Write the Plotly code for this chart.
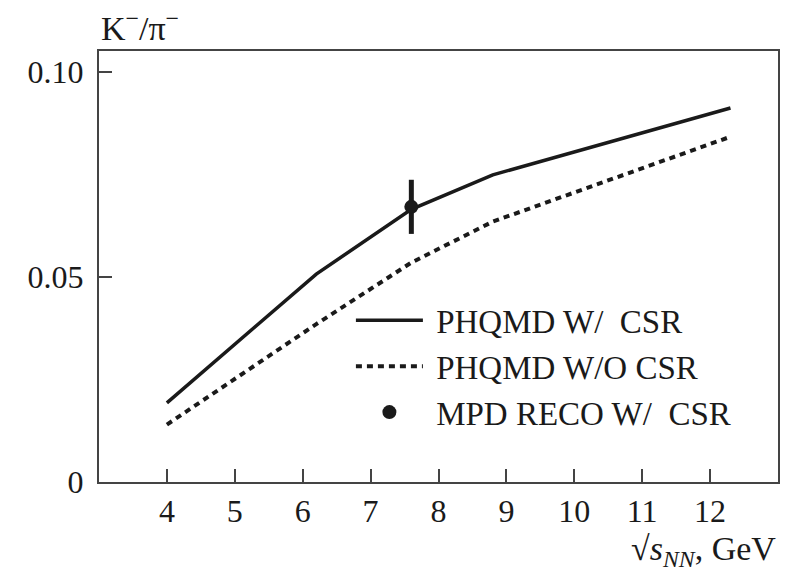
import plotly.graph_objects as go

# Data
energy = [4.0, 6.2, 7.6, 8.8, 12.3]
with_csr = [0.0193, 0.0507, 0.0665, 0.0749, 0.0912]
without_csr = [0.0140, 0.0385, 0.0535, 0.0635, 0.0842]
mpd_x = [7.6]
mpd_y = [0.0671]
mpd_err = [0.0066]

x_ticks = [4, 5, 6, 7, 8, 9, 10, 11, 12]
y_ticks = [0, 0.05, 0.10]
y_tick_text = ["0", "0.05", "0.10"]

FONT = "Liberation Serif"
INK = "#1a1a1a"
SP = "\u00a0"

fig = go.Figure()
fig.add_trace(go.Scatter(
    x=energy, y=with_csr, mode="lines", name=SP + "PHQMD W/\u00a0 CSR",
    line=dict(color=INK, width=3.5),
))
fig.add_trace(go.Scatter(
    x=energy, y=without_csr, mode="lines", name=SP + "PHQMD W/O CSR",
    line=dict(color=INK, width=4, dash="6px,5px"),
))
fig.add_trace(go.Scatter(
    x=mpd_x, y=mpd_y, mode="markers", name=SP + "MPD RECO W/\u00a0 CSR",
    marker=dict(color=INK, size=14, symbol="circle"),
    error_y=dict(type="data", array=mpd_err, color=INK, thickness=5, width=0),
))

fig.update_layout(
    width=808, height=573,
    margin=dict(l=99, r=30, t=51, b=91),
    paper_bgcolor="white", plot_bgcolor="white",
    font=dict(family=FONT, size=32, color=INK),
    showlegend=True,
    legend=dict(
        x=0.371, y=0.44, xanchor="left", yanchor="top",
        bgcolor="rgba(0,0,0,0)", font=dict(family=FONT, size=33, color=INK),
        itemwidth=67, tracegroupgap=0, itemsizing="trace",
    ),
    xaxis=dict(
        range=[3, 13], tickmode="array", tickvals=x_ticks,
        ticks="inside", ticklen=13, tickwidth=2, tickcolor="#444",
        showline=True, linecolor="#444", linewidth=2, mirror=True,
        showgrid=False, zeroline=False,
        tickfont=dict(family=FONT, size=32, color=INK),
    ),
    yaxis=dict(
        range=[0, 0.1051], tickmode="array", tickvals=y_ticks, ticktext=y_tick_text,
        ticks="inside", ticklen=13, tickwidth=2, tickcolor="#444",
        showline=True, linecolor="#444", linewidth=2, mirror=True,
        showgrid=False, zeroline=False, ticklabelstandoff=7,
        tickfont=dict(family=FONT, size=32, color=INK),
    ),
    annotations=[
        dict(text="K<sup>\u2212</sup>/\u03c0<sup>\u2212</sup>", xref="paper", yref="paper",
             x=0.0, y=1.0, xanchor="left", yanchor="bottom", yshift=2, showarrow=False,
             font=dict(family=FONT, size=34, color=INK)),
        dict(text="\u221a<i>s</i><sub><i>NN</i></sub>, GeV", xref="paper", yref="paper",
             x=1.0, y=0.0, xanchor="right", yanchor="top", yshift=-46, showarrow=False,
             font=dict(family=FONT, size=34, color=INK)),
    ],
)

fig.write_html("out.html")
